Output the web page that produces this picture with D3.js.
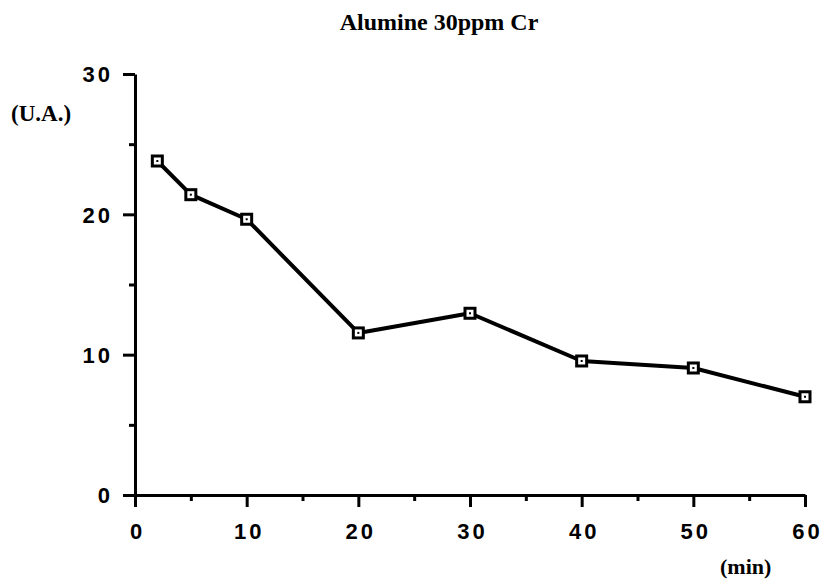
<!DOCTYPE html>
<html>
<head>
<meta charset="utf-8">
<script src="https://cdn.jsdelivr.net/npm/d3@7"></script>
<style>
  body { margin: 0; background: #fff; }
  svg { display: block; }
  .tick text { font-family: "Liberation Sans", Arial, sans-serif; font-size: 22px; font-weight: bold; letter-spacing: 3px; fill: #000; }
  .lbl { font-family: "Liberation Serif", "Times New Roman", serif; font-weight: bold; fill: #000; }
</style>
</head>
<body>
<div id="chart"></div>
<script>
// measured points (time in min, intensity in U.A.)
var times = [2, 5, 10, 20, 30, 40, 50, 60];
var values = [23.8, 21.4, 19.65, 11.55, 12.95, 9.55, 9.05, 7.0];
var xMajor = [0, 10, 20, 30, 40, 50, 60];
var xMinor = [5, 15, 25, 35, 45, 55];
var yMajor = [0, 10, 20, 30];
var yMinor = [5, 15, 25];

var w = 824, h = 581;
var svg = d3.select("#chart").append("svg")
    .attr("width", w)
    .attr("height", h);

var xScale = d3.scaleLinear().domain([0, 60]).range([135, 805]);
var yScale = d3.scaleLinear().domain([0, 30]).range([495, 74]);

// minor ticks first, no labels
svg.append("g")
    .attr("transform", "translate(0,495)")
    .call(d3.axisBottom(xScale).tickValues(xMinor).tickSize(6).tickFormat(""))
    .call(function(g) { g.select(".domain").remove(); });
svg.append("g")
    .attr("transform", "translate(135,0)")
    .call(d3.axisLeft(yScale).tickValues(yMinor).tickSize(6).tickFormat(""))
    .call(function(g) { g.select(".domain").remove(); });

// major axes
var xAxis = svg.append("g")
    .attr("transform", "translate(0,495)")
    .call(d3.axisBottom(xScale).tickValues(xMajor).tickSize(12).tickSizeOuter(0).tickPadding(16));
var yAxis = svg.append("g")
    .attr("transform", "translate(135,0)")
    .call(d3.axisLeft(yScale).tickValues(yMajor).tickSize(12).tickSizeOuter(0).tickPadding(10));

svg.selectAll(".domain").attr("stroke", "#000").attr("stroke-width", 3);
svg.selectAll(".tick line").attr("stroke", "#000").attr("stroke-width", 3);
xAxis.selectAll(".tick text").attr("dx", "2px");
yAxis.selectAll(".tick text").attr("dy", "0.35em");

var pts = times.map(function(t, i) { return {t: t, v: values[i]}; });

var line = d3.line()
    .x(function(d) { return xScale(d.t); })
    .y(function(d) { return yScale(d.v); });

svg.append("path")
    .datum(pts)
    .attr("d", line)
    .attr("fill", "none")
    .attr("stroke", "#000")
    .attr("stroke-width", 4)
    .attr("stroke-linejoin", "round");

var marks = svg.selectAll(".mark")
    .data(pts)
    .enter().append("g")
    .attr("class", "mark")
    .attr("transform", function(d) { return "translate(" + xScale(d.t) + "," + yScale(d.v) + ")"; });
marks.append("rect")
    .attr("x", -5).attr("y", -5)
    .attr("width", 10).attr("height", 10)
    .attr("fill", "#fff")
    .attr("stroke", "#000")
    .attr("stroke-width", 3);
marks.append("rect")
    .attr("x", -1).attr("y", -1)
    .attr("width", 2).attr("height", 2)
    .attr("fill", "#000");

// titles
svg.append("text").attr("class", "lbl")
    .attr("x", 439).attr("y", 30)
    .attr("text-anchor", "middle")
    .style("font-size", "24px")
    .text("Alumine 30ppm Cr");
svg.append("text").attr("class", "lbl")
    .attr("x", 11).attr("y", 121)
    .style("font-size", "23px")
    .text("(U.A.)");
svg.append("text").attr("class", "lbl")
    .attr("x", 720).attr("y", 574)
    .style("font-size", "22px")
    .text("(min)");
</script>
</body>
</html>
